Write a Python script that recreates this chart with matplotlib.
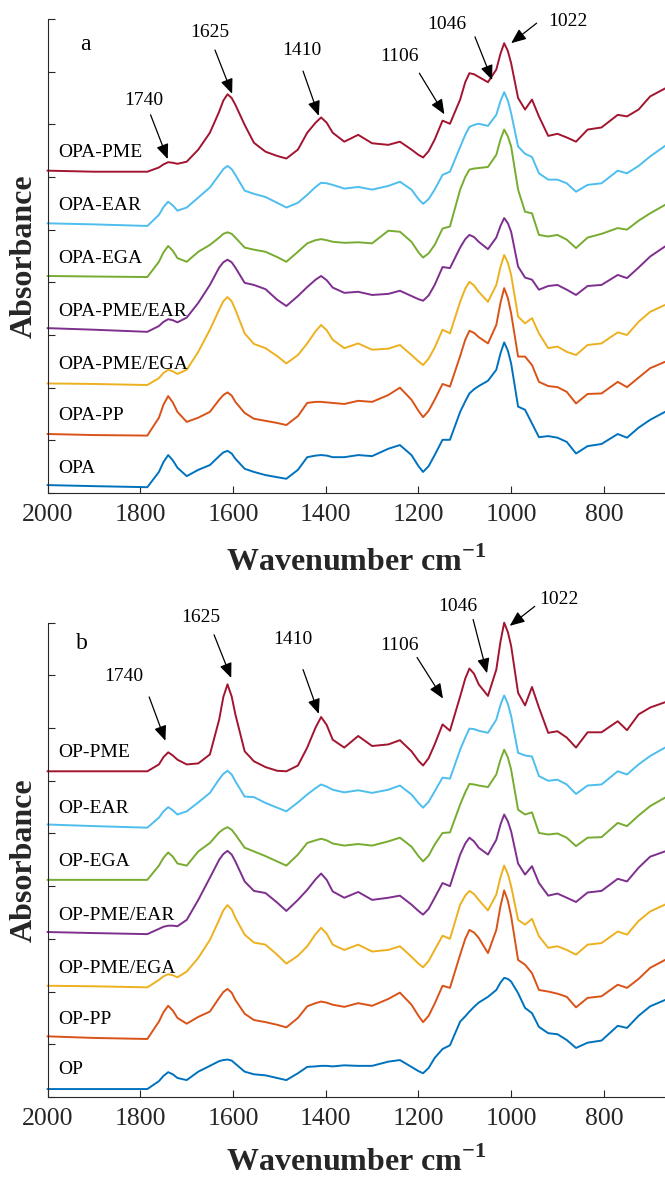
import matplotlib.pyplot as plt

plt.rcParams['font.family'] = 'Liberation Serif'
plt.rcParams['mathtext.fontset'] = 'custom'
plt.rcParams['mathtext.rm'] = 'Liberation Serif'
plt.rcParams['mathtext.bf'] = 'Liberation Serif:bold'

# common wavenumber grid (cm-1) that every spectrum was read at
WAVENUMBER = [2000, 1900, 1785, 1760, 1750, 1740, 1730, 1720, 1700, 1675, 1650, 1630, 1621, 1612,
              1603, 1595, 1575, 1555, 1530, 1505, 1485, 1460, 1440, 1422, 1410, 1398, 1385, 1360,
              1330, 1300, 1265, 1240, 1215, 1200, 1190, 1178, 1165, 1148, 1132, 1110, 1099, 1090,
              1080, 1070, 1050, 1032, 1023, 1015, 1007, 1000, 985, 970, 955, 940, 920, 900, 880,
              860, 835, 805, 770, 750, 725, 700, 668]

# panel a (stacked absorbance, arbitrary units)
OPA = [0.15, 0.13, 0.11, 0.40, 0.59, 0.72, 0.62, 0.48, 0.32, 0.44, 0.53, 0.70, 0.77, 0.80, 0.75,
       0.65, 0.46, 0.40, 0.34, 0.30, 0.27, 0.44, 0.68, 0.71, 0.72, 0.71, 0.68, 0.68, 0.72, 0.70,
       0.84, 0.91, 0.72, 0.51, 0.40, 0.51, 0.72, 1.01, 1.01, 1.54, 1.74, 1.89, 1.97, 2.03, 2.13,
       2.34, 2.65, 2.86, 2.70, 2.46, 1.64, 1.58, 1.32, 1.06, 1.08, 1.05, 0.97, 0.75, 0.89, 0.93,
       1.12, 1.05, 1.24, 1.39, 1.54]
OPA_PP = [1.12, 1.10, 1.09, 1.43, 1.68, 1.84, 1.72, 1.54, 1.35, 1.43, 1.54, 1.77, 1.86, 1.91, 1.85,
          1.73, 1.52, 1.41, 1.37, 1.33, 1.29, 1.46, 1.71, 1.73, 1.73, 1.72, 1.71, 1.69, 1.75, 1.73,
          1.86, 2.00, 1.77, 1.56, 1.44, 1.56, 1.77, 2.07, 2.02, 2.60, 2.91, 3.08, 3.04, 2.96, 2.84,
          3.19, 3.61, 3.89, 3.70, 3.41, 2.59, 2.59, 2.43, 2.11, 2.03, 2.01, 1.92, 1.70, 1.88, 1.89,
          2.11, 2.01, 2.19, 2.37, 2.49]
OPA_PME_EGA = [2.08, 2.07, 2.05, 2.18, 2.28, 2.34, 2.31, 2.26, 2.34, 2.68, 3.10, 3.48, 3.64, 3.72,
               3.64, 3.48, 3.03, 2.83, 2.75, 2.60, 2.46, 2.62, 2.84, 3.07, 3.19, 3.09, 2.91, 2.75,
               2.84, 2.72, 2.74, 2.81, 2.62, 2.50, 2.43, 2.55, 2.76, 3.10, 3.03, 3.63, 3.88, 4.01,
               3.94, 3.82, 3.63, 3.95, 4.29, 4.52, 4.37, 4.14, 3.35, 3.22, 3.32, 3.03, 2.75, 2.78,
               2.68, 2.62, 2.81, 2.84, 3.05, 3.00, 3.25, 3.44, 3.57]
OPA_PME_EAR = [3.13, 3.10, 3.06, 3.17, 3.25, 3.30, 3.28, 3.24, 3.33, 3.61, 3.95, 4.28, 4.38, 4.43,
               4.38, 4.28, 3.99, 3.95, 3.87, 3.67, 3.55, 3.74, 3.91, 4.05, 4.12, 4.04, 3.90, 3.80,
               3.82, 3.76, 3.78, 3.84, 3.74, 3.68, 3.65, 3.75, 3.95, 4.29, 4.27, 4.66, 4.82, 4.90,
               4.86, 4.77, 4.63, 4.85, 5.07, 5.22, 5.12, 4.96, 4.30, 4.09, 4.05, 3.86, 3.93, 3.95,
               3.86, 3.76, 3.93, 3.95, 4.14, 4.08, 4.28, 4.49, 4.68]
OPA_EGA = [4.12, 4.11, 4.10, 4.39, 4.57, 4.69, 4.60, 4.46, 4.39, 4.58, 4.71, 4.85, 4.92, 4.95, 4.92,
           4.85, 4.66, 4.62, 4.58, 4.48, 4.39, 4.58, 4.74, 4.80, 4.82, 4.80, 4.77, 4.75, 4.76, 4.74,
           4.98, 4.96, 4.77, 4.57, 4.47, 4.55, 4.71, 5.02, 5.06, 5.76, 6.00, 6.14, 6.16, 6.17, 6.19,
           6.42, 6.71, 6.90, 6.77, 6.58, 5.76, 5.34, 5.31, 4.90, 4.87, 4.90, 4.81, 4.65, 4.85, 4.92,
           5.03, 5.00, 5.17, 5.31, 5.47]
OPA_EAR = [5.12, 5.10, 5.07, 5.28, 5.43, 5.53, 5.46, 5.36, 5.42, 5.61, 5.80, 6.04, 6.15, 6.21, 6.15,
           6.04, 5.74, 5.68, 5.62, 5.51, 5.42, 5.51, 5.66, 5.81, 5.89, 5.88, 5.85, 5.78, 5.81, 5.76,
           5.83, 5.91, 5.76, 5.58, 5.49, 5.58, 5.76, 6.04, 6.10, 6.57, 6.80, 6.95, 6.99, 7.01, 6.97,
           7.18, 7.44, 7.61, 7.45, 7.21, 6.58, 6.44, 6.38, 6.07, 5.95, 5.95, 5.88, 5.72, 5.85, 5.88,
           6.12, 6.07, 6.21, 6.39, 6.59]
OPA_PME = [6.12, 6.10, 6.10, 6.18, 6.24, 6.28, 6.27, 6.25, 6.29, 6.52, 6.84, 7.24, 7.45, 7.57, 7.50,
           7.37, 6.99, 6.65, 6.48, 6.40, 6.35, 6.52, 6.84, 7.03, 7.13, 7.03, 6.84, 6.67, 6.80, 6.64,
           6.61, 6.67, 6.52, 6.42, 6.37, 6.49, 6.71, 7.07, 7.01, 7.47, 7.80, 7.97, 7.95, 7.90, 7.80,
           8.04, 8.34, 8.54, 8.39, 8.16, 7.50, 7.28, 7.47, 7.15, 6.78, 6.82, 6.75, 6.67, 6.90, 6.94,
           7.18, 7.15, 7.28, 7.53, 7.68]

# panel b
OP = [0.15, 0.15, 0.15, 0.30, 0.40, 0.47, 0.43, 0.36, 0.32, 0.48, 0.59, 0.68, 0.70, 0.71, 0.69,
      0.63, 0.48, 0.43, 0.41, 0.36, 0.32, 0.45, 0.57, 0.58, 0.59, 0.59, 0.58, 0.60, 0.59, 0.59,
      0.67, 0.70, 0.57, 0.49, 0.45, 0.55, 0.74, 0.91, 0.98, 1.43, 1.53, 1.62, 1.71, 1.79, 1.90,
      2.03, 2.17, 2.26, 2.24, 2.19, 1.97, 1.69, 1.59, 1.33, 1.21, 1.19, 1.08, 0.93, 1.03, 1.07,
      1.35, 1.31, 1.54, 1.72, 1.84]
OP_PP = [1.15, 1.12, 1.10, 1.43, 1.61, 1.73, 1.64, 1.50, 1.39, 1.52, 1.62, 1.88, 1.99, 2.05, 1.98,
         1.84, 1.58, 1.46, 1.42, 1.37, 1.32, 1.50, 1.72, 1.78, 1.81, 1.79, 1.75, 1.71, 1.78, 1.73,
         1.86, 1.98, 1.75, 1.54, 1.42, 1.54, 1.77, 2.11, 2.07, 2.70, 3.00, 3.17, 3.12, 3.02, 2.73,
         3.17, 3.62, 3.92, 3.72, 3.43, 2.60, 2.51, 2.35, 2.03, 2.00, 1.96, 1.90, 1.70, 1.88, 1.91,
         2.13, 2.07, 2.24, 2.45, 2.60]
OP_PME_EGA = [2.11, 2.10, 2.08, 2.22, 2.29, 2.33, 2.31, 2.27, 2.38, 2.64, 2.98, 3.36, 3.54, 3.64,
              3.56, 3.40, 3.08, 2.93, 2.89, 2.70, 2.53, 2.68, 2.86, 3.09, 3.21, 3.10, 2.89, 2.79,
              2.89, 2.76, 2.79, 2.86, 2.66, 2.53, 2.46, 2.58, 2.79, 3.06, 3.00, 3.65, 3.82, 3.91,
              3.85, 3.74, 3.54, 3.84, 4.17, 4.39, 4.23, 4.00, 3.36, 3.27, 3.38, 3.05, 2.83, 2.86,
              2.79, 2.70, 2.89, 2.92, 3.14, 3.08, 3.34, 3.52, 3.65]
OP_PME_EAR = [3.13, 3.11, 3.09, 3.19, 3.23, 3.25, 3.25, 3.24, 3.36, 3.74, 4.16, 4.50, 4.61, 4.67,
              4.60, 4.47, 4.09, 3.91, 3.87, 3.69, 3.53, 3.74, 3.93, 4.13, 4.24, 4.12, 3.90, 3.78,
              3.89, 3.74, 3.78, 3.82, 3.65, 3.53, 3.46, 3.57, 3.78, 4.06, 4.00, 4.60, 4.81, 4.92,
              4.85, 4.73, 4.60, 4.88, 5.17, 5.36, 5.23, 5.04, 4.43, 4.22, 4.38, 4.06, 3.82, 3.86,
              3.78, 3.70, 3.88, 3.91, 4.14, 4.09, 4.35, 4.56, 4.66]
OP_EGA = [4.12, 4.12, 4.12, 4.39, 4.54, 4.64, 4.56, 4.43, 4.39, 4.66, 4.82, 5.02, 5.08, 5.12, 5.07,
          4.98, 4.73, 4.66, 4.57, 4.47, 4.39, 4.60, 4.82, 4.87, 4.90, 4.87, 4.81, 4.77, 4.80, 4.77,
          4.85, 4.92, 4.75, 4.57, 4.47, 4.58, 4.79, 5.01, 5.02, 5.55, 5.78, 5.94, 5.93, 5.91, 5.88,
          6.12, 6.40, 6.59, 6.44, 6.21, 5.45, 5.36, 5.40, 5.01, 4.98, 5.00, 4.92, 4.76, 4.92, 4.93,
          5.20, 5.14, 5.34, 5.52, 5.68]
OP_EAR = [5.17, 5.14, 5.11, 5.30, 5.42, 5.50, 5.44, 5.36, 5.42, 5.59, 5.77, 6.03, 6.13, 6.19, 6.12,
          5.99, 5.70, 5.69, 5.58, 5.49, 5.42, 5.59, 5.74, 5.86, 5.93, 5.89, 5.83, 5.78, 5.82, 5.77,
          5.83, 5.91, 5.74, 5.58, 5.49, 5.60, 5.80, 6.06, 6.04, 6.59, 6.82, 6.99, 6.98, 6.95, 6.91,
          7.16, 7.44, 7.62, 7.46, 7.23, 6.53, 6.48, 6.46, 6.09, 6.00, 6.02, 5.93, 5.75, 5.91, 5.93,
          6.18, 6.12, 6.31, 6.47, 6.63]
OP_PME = [6.18, 6.18, 6.18, 6.31, 6.45, 6.54, 6.48, 6.40, 6.31, 6.33, 6.50, 7.16, 7.59, 7.83, 7.60,
          7.26, 6.56, 6.37, 6.26, 6.19, 6.18, 6.29, 6.63, 7.01, 7.21, 7.06, 6.78, 6.63, 6.85, 6.66,
          6.69, 6.77, 6.56, 6.38, 6.29, 6.43, 6.69, 7.07, 6.95, 7.60, 7.94, 8.13, 8.03, 7.83, 7.61,
          8.11, 8.64, 9.00, 8.82, 8.56, 7.67, 7.43, 7.78, 7.39, 6.91, 6.94, 6.82, 6.63, 6.92, 6.92,
          7.13, 6.96, 7.26, 7.39, 7.49]

NAMES_A = ['OPA', 'OPA-PP', 'OPA-PME/EGA', 'OPA-PME/EAR', 'OPA-EGA', 'OPA-EAR', 'OPA-PME']
NAMES_B = ['OP', 'OP-PP', 'OP-PME/EGA', 'OP-PME/EAR', 'OP-EGA', 'OP-EAR', 'OP-PME']
PEAKS = ['1740', '1625', '1410', '1106', '1046', '1022']

COLORS = ['#0072BD', '#D95319', '#EDB120', '#7E2F8E', '#77AC30', '#4DBEEE', '#A2142F']
INK = '#262626'


def draw_panel(ax, series, names, letter, layout):
    for y, color in zip(series, COLORS):
        ax.plot(WAVENUMBER, y, color=color, lw=1.4, clip_on=False, solid_joinstyle='round')

    for name, ly in zip(names, layout['name_y']):
        ax.text(1978, ly, name, fontsize=14, va='baseline', ha='left', color='k')
    ax.text(layout['letter'][0], layout['letter'][1], letter, fontsize=17, va='baseline')

    for peak, txt, tail, head in zip(PEAKS, layout['text'], layout['tail'], layout['head']):
        ax.text(txt[0], txt[1], peak, fontsize=14, ha='center', va='center', clip_on=False)
        ax.annotate('', xy=head, xytext=tail, annotation_clip=False,
                    arrowprops=dict(arrowstyle='-|>,head_length=0.6,head_width=0.25',
                                    mutation_scale=15, color='k', lw=0.9,
                                    shrinkA=0, shrinkB=0))

    ax.set_xlim(2000, 668)
    ax.set_ylim(0, 9)
    ax.set_xticks([2000, 1800, 1600, 1400, 1200, 1000, 800])
    ax.set_yticks(range(10))
    ax.set_yticklabels([])
    for side in ['top', 'right']:
        ax.spines[side].set_visible(False)
    for side in ['left', 'bottom']:
        ax.spines[side].set_color(INK)
        ax.spines[side].set_linewidth(0.8)
    ax.tick_params(direction='in', length=5, width=0.8, colors=INK, labelsize=18.5, pad=8)

    ax.set_xlabel(r'Wavenumber cm$^{\mathbf{-1}}$', fontsize=23, fontweight='bold', color=INK)
    ax.xaxis.set_label_coords(0.5, layout['xlabel_y'])
    ax.set_ylabel('Absorbance', fontsize=23, fontweight='bold', color=INK)
    ax.yaxis.set_label_coords(-0.014, 0.5)


LAYOUT_A = {
    'name_y': [0.38, 1.38, 2.36, 3.36, 4.37, 5.37, 6.38],
    'letter': (1930, 8.42),
    'text': [(1792, 7.46), (1650, 8.75), (1451, 8.41), (1241, 8.28), (1139, 8.89), (877, 8.96)],
    'tail': [(1778, 7.18), (1639, 8.41), (1449, 8.01), (1198, 7.97), (1078, 8.66), (945, 8.92)],
    'head': [(1741, 6.34), (1602, 7.58), (1415, 7.16), (1144, 7.19), (1041, 7.84), (1000, 8.54)],
    'xlabel_y': -0.113,
}
LAYOUT_B = {
    'name_y': [0.43, 1.39, 2.36, 3.36, 4.38, 5.39, 6.45],
    'letter': (1939, 8.51),
    'text': [(1835, 7.97), (1669, 9.09), (1472, 8.68), (1241, 8.57), (1115, 9.31), (897, 9.44)],
    'tail': [(1781, 7.59), (1641, 8.77), (1449, 8.11), (1203, 8.34), (1082, 9.06), (949, 9.31)],
    'head': [(1746, 6.76), (1604, 7.95), (1415, 7.27), (1147, 7.56), (1052, 8.04), (1003, 8.94)],
    'xlabel_y': -0.105,
}

fig = plt.figure(figsize=(6.65, 11.78), dpi=100)
ax_a = fig.add_axes([0.0717, 0.5815, 0.9283, 0.4024])
ax_b = fig.add_axes([0.0717, 0.0688, 0.9283, 0.4026])

draw_panel(ax_a, [OPA, OPA_PP, OPA_PME_EGA, OPA_PME_EAR, OPA_EGA, OPA_EAR, OPA_PME],
           NAMES_A, 'a', LAYOUT_A)
draw_panel(ax_b, [OP, OP_PP, OP_PME_EGA, OP_PME_EAR, OP_EGA, OP_EAR, OP_PME],
           NAMES_B, 'b', LAYOUT_B)

fig.savefig('out.png', dpi=100)
